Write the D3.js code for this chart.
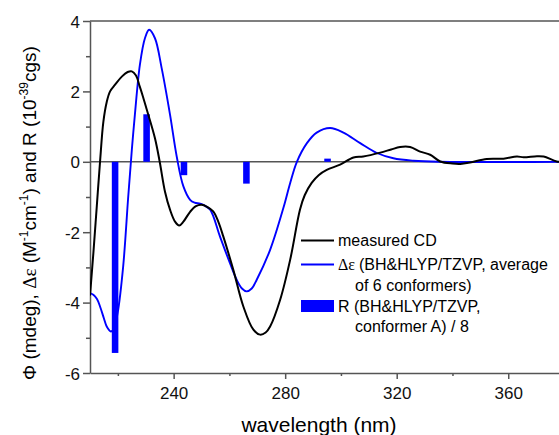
<!DOCTYPE html>
<html>
<head>
<meta charset="utf-8">
<script src="https://cdn.jsdelivr.net/npm/d3@7"></script>
<style>
  body { margin: 0; background: #fff; }
  svg { display: block; font-family: "Liberation Sans", Arial, sans-serif; }
  .axis path, .axis line { stroke: #555; stroke-width: 1.5; }
  .axis text { font-size: 17px; fill: #111; }
</style>
</head>
<body>
<svg id="cd" width="559" height="435"></svg>
<script>
const width = 559;
const height = 435;

/* DATA */
// measured CD (mdeg)
const cdWave = [210, 211.2, 212.4, 213.6, 214.8, 216, 217.2, 219, 221.4, 223.5, 225, 226.5, 227.8, 229,
  230.3, 233.3, 235, 236.9, 238.7, 240.5, 242, 243.5, 245.9, 248, 250, 252, 254.2, 256, 257.8, 261.4,
  265, 268.6, 271, 273, 274.6, 278.2, 281.8, 285.3, 287, 289.5, 292, 294.9, 299.7, 304.5, 308, 314.1,
  318, 321.2, 324.8, 328.4, 332, 335.6, 340, 342.8, 346.3, 352.3, 358.3, 363.1, 365.5, 370.3, 372.7,
  377.4, 380];
const cdValue = [-3.8, -2.6, -1.3, 0, 1.14, 1.7, 2.0, 2.19, 2.42, 2.55, 2.57, 2.45, 2.15, 1.85,
  1.5, 0.67, 0.0, -0.85, -1.36, -1.7, -1.81, -1.7, -1.42, -1.26, -1.22, -1.28, -1.41, -1.7, -2.12, -3.07,
  -4.11, -4.77, -4.91, -4.85, -4.68, -3.92, -2.78, -1.36, -0.95, -0.6, -0.38, -0.23, -0.08, 0.12, 0.15, 0.26,
  0.35, 0.42, 0.42, 0.29, 0.2, 0.01, -0.05, -0.06, -0.02, 0.08, 0.09, 0.15, 0.13, 0.16, 0.15,
  0.01, 0];

// calculated delta epsilon, average of 6 conformers
const calcWave = [210, 211.2, 212.5, 213.6, 215, 216, 217.5, 218.5, 219.9, 221.9, 223.7, 225, 226.1,
  227.9, 229.7, 231.2, 233.3, 235.7, 238.7, 241.1, 243.5, 245.9, 247.5, 249.5, 251, 253.1, 256.6, 260.2,
  262.6, 264.5, 266.2, 268, 269.8, 274.6, 279.4, 281.8, 284.2, 287.8, 291.3, 296.1, 300.9, 306.9, 312.9,
  318.8, 326, 335, 380];
const calcValue = [-3.73, -3.78, -3.9, -4.11, -4.45, -4.68, -4.82, -4.75, -4.3, -2.97, -1.0, 0.34, 1.34,
  2.76, 3.51, 3.75, 3.51, 2.66, 1.34, 0.15, -0.7, -1.08, -1.16, -1.19, -1.24, -1.36, -2.12, -2.88,
  -3.35, -3.6, -3.68, -3.6, -3.35, -2.5, -1.3, -0.6, 0.0, 0.53, 0.83, 0.96, 0.83, 0.53, 0.25,
  0.1, 0.03, 0, 0];

// rotational strengths of conformer A, divided by 8
const barWave = [219, 230.3, 243.7, 266.1, 295.2];
const barValue = [-5.43, 1.35, -0.38, -0.62, 0.09];

const xMajor = [240, 280, 320, 360];
const xMinor = [220, 260, 300, 340];
const yMajor = [-6, -4, -2, 0, 2, 4];
const yMinor = [-5, -3, -1, 1, 3];

const legendNames = [
  ["measured CD"],
  ["(BH&HLYP/TZVP, average", "of 6 conformers)"],
  ["R (BH&HLYP/TZVP,", "conformer A) / 8"]
];

const blue = "#0000ff";

const margin = { top: 21, bottom: 62, left: 90, right: -5 };

/* PLOT */
const svg = d3.select("svg#cd");
const plotWidth = width - margin.left - margin.right;
const plotHeight = height - margin.top - margin.bottom;

const plot = svg.append("g").attr("transform", translate(margin.left, margin.top));

const x = d3.scaleLinear().domain([210, 380]).range([0, plotWidth]);
const y = d3.scaleLinear().domain([-6, 4]).range([plotHeight, 0]);

svg.append("defs").append("clipPath").attr("id", "clip")
  .append("rect").attr("width", plotWidth).attr("height", plotHeight);

/* AXES */
plot.append("g").attr("class", "axis")
  .call(d3.axisLeft(y).tickValues(yMinor).tickSize(4).tickFormat(""))
  .select(".domain").remove();
plot.append("g").attr("class", "axis")
  .attr("transform", translate(0, plotHeight))
  .call(d3.axisBottom(x).tickValues(xMinor).tickSize(3).tickFormat(""))
  .select(".domain").remove();

const yAxis = plot.append("g").attr("class", "axis")
  .call(d3.axisLeft(y).tickValues(yMajor).tickSize(7).tickSizeOuter(0).tickPadding(3).tickFormat(d => String(d)));
yAxis.selectAll("text").attr("dy", "0.36em");

plot.append("g").attr("class", "axis")
  .attr("transform", translate(0, plotHeight))
  .call(d3.axisBottom(x).tickValues(xMajor).tickSize(6).tickSizeOuter(0).tickPadding(8).tickFormat(d => String(d)));

// top frame line and zero line
plot.append("line").attr("x1", 0).attr("x2", plotWidth).attr("y1", 0).attr("y2", 0)
  .attr("stroke", "#555").attr("stroke-width", 1.5);
plot.append("line").attr("x1", 0).attr("x2", plotWidth).attr("y1", y(0)).attr("y2", y(0))
  .attr("stroke", "#555").attr("stroke-width", 1.5);

/* BARS */
const barW = x(212.35) - x(210);
plot.append("g").attr("clip-path", "url(#clip)")
  .selectAll("rect")
  .data(barWave.map((w, i) => ({ w: w, v: barValue[i] })))
  .enter().append("rect")
  .attr("x", d => x(d.w) - barW / 2)
  .attr("width", barW)
  .attr("y", d => y(Math.max(0, d.v)))
  .attr("height", d => Math.abs(y(d.v) - y(0)))
  .attr("fill", blue);

/* CURVES */
const line = d3.line().x(d => x(d[0])).y(d => y(d[1])).curve(d3.curveCatmullRom.alpha(0.5));

const curves = plot.append("g").attr("clip-path", "url(#clip)");
curves.append("path")
  .datum(calcWave.map((w, i) => [w, calcValue[i]]))
  .attr("d", line).attr("fill", "none").attr("stroke", blue).attr("stroke-width", 1.9);
curves.append("path")
  .datum(cdWave.map((w, i) => [w, cdValue[i]]))
  .attr("d", line).attr("fill", "none").attr("stroke", "#000").attr("stroke-width", 2);

/* AXIS TITLES */
svg.append("text")
  .attr("x", 319).attr("y", 432)
  .attr("text-anchor", "middle")
  .style("font-size", "21px")
  .text("wavelength (nm)");

const yTitle = svg.append("text")
  .attr("transform", translate(36, 380) + " rotate(-90)")
  .attr("text-anchor", "start")
  .style("font-size", "19px");
yTitle.append("tspan").text("Φ (mdeg), ");
yTitle.append("tspan").style("font-family", "'Liberation Serif', serif").text("Δε");
yTitle.append("tspan").text(" (M");
yTitle.append("tspan").attr("dy", -8).style("font-size", "12px").text("-1");
yTitle.append("tspan").attr("dy", 8).text("cm");
yTitle.append("tspan").attr("dy", -8).style("font-size", "12px").text("-1");
yTitle.append("tspan").attr("dy", 8).text(") and R (10");
yTitle.append("tspan").attr("dy", -8).style("font-size", "12px").text("-39");
yTitle.append("tspan").attr("dy", 8).text("cgs)");

/* LEGEND */
const legend = svg.append("g").style("font-size", "16px");
legend.append("line").attr("x1", 301).attr("x2", 334).attr("y1", 240.5).attr("y2", 240.5)
  .attr("stroke", "#000").attr("stroke-width", 2);
legend.append("text").attr("x", 338).attr("y", 246).text(legendNames[0][0]);

legend.append("line").attr("x1", 301).attr("x2", 334).attr("y1", 264.5).attr("y2", 264.5)
  .attr("stroke", blue).attr("stroke-width", 1.9);
const t2 = legend.append("text").attr("x", 338).attr("y", 270);
t2.append("tspan").style("font-family", "'Liberation Serif', serif").text("Δε ");
t2.append("tspan").text(legendNames[1][0]);
legend.append("text").attr("x", 355).attr("y", 291).text(legendNames[1][1]);

legend.append("rect").attr("x", 301).attr("y", 300).attr("width", 33).attr("height", 12)
  .attr("fill", blue);
legend.append("text").attr("x", 338).attr("y", 312).text(legendNames[2][0]);
legend.append("text").attr("x", 355).attr("y", 332).text(legendNames[2][1]);

function translate(a, b) {
  return "translate(" + String(a) + "," + String(b) + ")";
}
</script>
</body>
</html>
